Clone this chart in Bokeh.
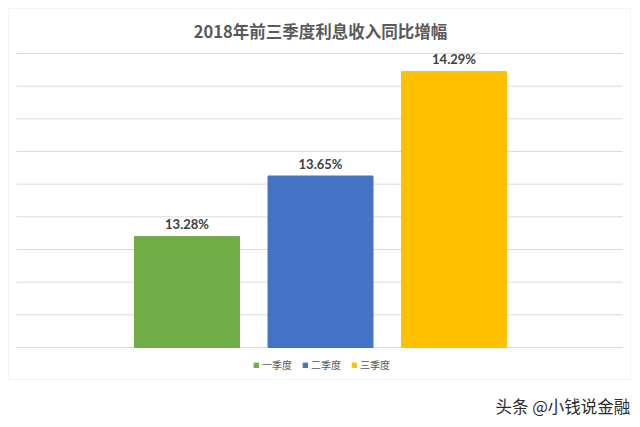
from bokeh.plotting import figure
from bokeh.models import ColumnDataSource, Range1d, Legend, LegendItem, Label, BoxAnnotation
from bokeh.core.properties import value
from bokeh.embed import file_html
from bokeh.resources import INLINE

title_text = "2018年前三季度利息收入同比增幅"
quarters = ["一季度", "二季度", "三季度"]
growth = [13.28, 13.65, 14.29]
colors = ["#70ad47", "#4472c4", "#ffc000"]
y_ticks = [12.6, 12.8, 13.0, 13.2, 13.4, 13.6, 13.8, 14.0, 14.2, 14.4]
watermark = "头条 @小钱说金融"

W, H = 640, 427
xpos = [0.0, 1.0, 2.0]
labels = [f"{v:.2f}%" for v in growth]
bottoms = [y_ticks[0]] * len(growth)

# layout: plot area (grid region) spans pixels x 16..622, y 53..347 of the canvas
px_left, px_right, px_top, px_bottom = 16, 622, 53, 347
bar_step = 133.5  # pixels between bar centres
xs = bar_step
x_lo = 1 - (320 - px_left) / xs
x_hi = 1 + (px_right - 320) / xs
ys = (px_bottom - px_top) / (y_ticks[-1] - y_ticks[0])
x_range = Range1d(x_lo - px_left / xs, x_hi + (W - px_right) / xs)
y_range = Range1d(y_ticks[0] - (H - px_bottom) / ys, y_ticks[-1] + px_top / ys)

src = ColumnDataSource(dict(x=xpos, top=growth, bottom=bottoms, color=colors, q=quarters, lab=labels))
grid_src = ColumnDataSource(dict(x0=[x_lo] * len(y_ticks), x1=[x_hi] * len(y_ticks), y=y_ticks))

p = figure(width=W, height=H, output_backend="svg", toolbar_location=None,
           x_range=x_range, y_range=y_range,
           min_border_left=0, min_border_right=0, min_border_top=0, min_border_bottom=0)
p.xaxis.visible = False
p.yaxis.visible = False
p.xgrid.grid_line_color = None
p.ygrid.grid_line_color = None
p.outline_line_color = None

border = BoxAnnotation(left=8, right=630, bottom=H - 379, top=H - 8,
                       left_units="screen", right_units="screen",
                       bottom_units="screen", top_units="screen",
                       fill_alpha=0, line_color="#d9d9d9", line_width=1)
p.add_layout(border)

p.segment(x0="x0", x1="x1", y0="y", y1="y", source=grid_src, line_color="#d9d9d9", line_width=1)

r = p.vbar(x="x", top="top", bottom="bottom", width=105 / bar_step, fill_color="color",
           line_color="color", source=src)
p.text(x="x", y="top", text="lab", source=src, text_align="center", text_baseline="bottom",
       y_offset=-4, text_font=value("Lato"), text_font_size="13px", text_font_style="bold",
       text_color="#404040")

title = Label(x=W / 2, y=H - 30, x_units="screen", y_units="screen", text=title_text,
              text_align="center", text_baseline="middle", text_font="Noto Sans CJK SC",
              text_font_size="16.5px", text_font_style="bold", text_color="#595959")
p.add_layout(title)

items = [LegendItem(label=q, renderers=[r], index=i) for i, q in enumerate(quarters)]
legend = Legend(items=items, orientation="horizontal", location=(253, H - 372),
                glyph_width=6, glyph_height=6, label_standoff=3, spacing=10,
                label_text_font="Noto Sans CJK SC", label_text_font_size="10px",
                label_text_color="#595959", border_line_color=None, padding=0, margin=0,
                background_fill_alpha=0)
p.add_layout(legend)

wm = Label(x=495, y=H - 405, x_units="screen", y_units="screen", text=watermark,
           text_font="Noto Sans CJK SC", text_font_size="16.5px", text_color="#2b2b2b",
           text_baseline="middle")
p.add_layout(wm)

open("out.html", "w").write(file_html(p, INLINE))
